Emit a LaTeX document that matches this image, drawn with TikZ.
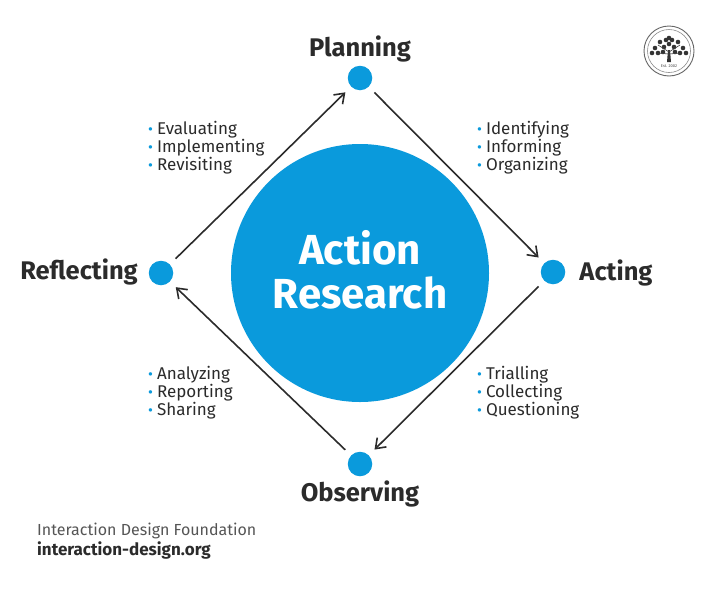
\documentclass[tikz,border=0pt]{standalone}
\usepackage{fontspec}
\setmainfont{Fira Sans}
\usetikzlibrary{arrows.meta}
\definecolor{idfblue}{HTML}{0A9ADC}
\definecolor{idfdark}{HTML}{2B2B2B}
\definecolor{idfgrey}{HTML}{555555}
\newcommand{\bl}{\textcolor{idfblue}{\fontsize{15}{15}\selectfont\raisebox{-0.5pt}{•}}\hspace{4pt}}
\tikzset{
  x=1pt,y=-1pt,
  dotnode/.style={circle,fill=idfblue,minimum size=24.5pt,inner sep=0pt},
  phase/.style={inner sep=0pt,text=idfdark,font=\fontsize{25.5}{27}\selectfont\bfseries},
  items/.style={inner sep=0pt,anchor=north west,align=left,text=idfdark,font=\fontsize{17}{18}\selectfont},
  flow/.style={draw=idfdark,line width=1.6pt,-{Straight Barb[length=9pt,width=13pt,line width=1.6pt]},shorten <=8pt,shorten >=8pt},
}
\begin{document}
\begin{tikzpicture}
\useasboundingbox (0,0) rectangle (720,592);
\fill[white] (0,0) rectangle (720,592);
\node[circle,fill=idfblue,minimum size=258pt,inner sep=0pt] (core) at (360,273) {};
\node[inner sep=0pt,text=white,align=center,font=\fontsize{42}{44}\selectfont\bfseries] (corelabel) at (360,270) {Action\\Research};
\node[dotnode] (plan) at (360,78) {};
\node[dotnode] (act) at (553,272) {};
\node[dotnode] (obs) at (360,464) {};
\node[dotnode] (refl) at (161,273) {};
\draw[flow] (plan) -- (act);
\draw[flow] (act) -- (obs);
\draw[flow] (obs) -- (refl);
\draw[flow] (refl) -- (plan);
\node[phase] (tplan) at (360,49) {Planning};
\node[phase] (tact) at (616,273) {Acting};
\node[phase] (tobs) at (360,494) {Observing};
\node[phase] (trefl) at (79,272) {Reflecting};
\node[items] (l1) at (148,121) {\bl Evaluating\\\bl Implementing\\\bl Revisiting};
\node[items] (l2) at (477,121) {\bl Identifying\\\bl Informing\\\bl Organizing};
\node[items] (l3) at (477,366) {\bl Trialling\\\bl Collecting\\\bl Questioning};
\node[items] (l4) at (148,366) {\bl Analyzing\\\bl Reporting\\\bl Sharing};
\node[inner sep=0pt,anchor=west,text=idfgrey,font=\fontsize{16}{18}\selectfont] (f1) at (37,531) {Interaction Design Foundation};
\node[inner sep=0pt,anchor=west,text=idfdark,font=\fontsize{17}{18}\selectfont\bfseries] (f2) at (37,550) {interaction-design.org};
% logo
\draw[black!60,line width=0.9pt] (669,51) circle (25);
\draw[black!45,line width=0.6pt] (669,51) circle (21.5);
\fill[black!80] (667,62) -- (671,62) -- (670,50) -- (668,50) -- cycle;
\foreach \a/\b in {669/38,660/42,678/42,655/48,683/48,664/47,674/47,658/53,680/53,669/44,663/52,675/52,652/53,686/53,666/40,672/40}
  \fill[black!80] (\a,\b) circle (2.3);
\draw[black!75,line width=0.6pt] (669,52) -- (658,45) (669,52) -- (680,45) (669,54) -- (656,53) (669,54) -- (682,53);
\node[inner sep=0pt,text=black!70,font=\fontsize{4}{4}\selectfont] (est) at (669,66) {Est. 2002};
\end{tikzpicture}
\end{document}
